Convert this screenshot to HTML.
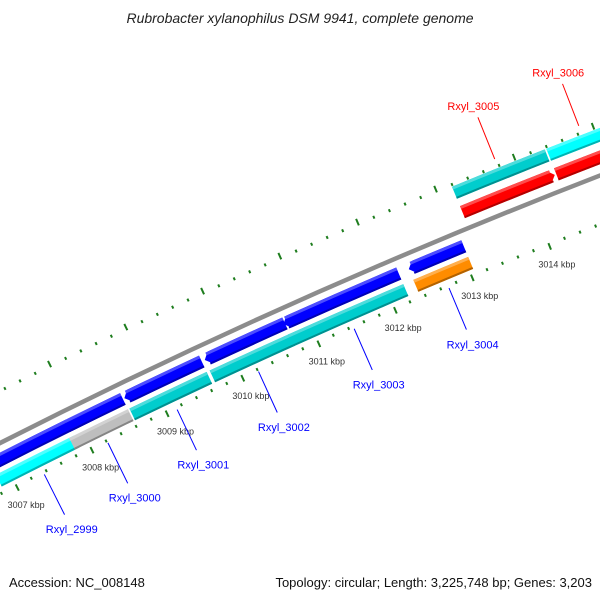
<!DOCTYPE html>
<html><head><meta charset="utf-8"><style>
html,body{margin:0;padding:0;background:#fff;}
svg{display:block;font-family:"Liberation Sans",sans-serif;}
</style></head><body>
<svg id="map" width="600" height="600" viewBox="0 0 600 600" xmlns="http://www.w3.org/2000/svg">
<rect width="600" height="600" fill="#fff"/>
<text x="300" y="23" text-anchor="middle" font-size="14" font-style="italic" fill="#222">Rubrobacter xylanophilus DSM 9941, complete genome</text>
<g id="plot"></g>
<text x="9" y="587" font-size="13" fill="#111">Accession: NC_008148</text>
<text x="592" y="587" text-anchor="end" font-size="13" fill="#111">Topology: circular; Length: 3,225,748 bp; Genes: 3,203</text>
</svg>
<script>
// data
const majorTicks = [3006,3007,3008,3009,3010,3011,3012,3013,3014,3015,3016];
const tickLabels = ["3006 kbp","3007 kbp","3008 kbp","3009 kbp","3010 kbp","3011 kbp","3012 kbp","3013 kbp","3014 kbp","3015 kbp","3016 kbp"];
const geneNames  = ["Rxyl_2999","Rxyl_3000","Rxyl_3001","Rxyl_3002","Rxyl_3003","Rxyl_3004","Rxyl_3005","Rxyl_3006"];
const geneStart  = [3006.84,3007.82,3008.62,3009.68,3010.71,3012.34,3013.19,3014.39];
const geneEnd    = [3007.88,3008.60,3009.64,3010.73,3012.21,3013.05,3014.37,3015.30];
const geneStrand = [-1,-1,-1,-1,-1,-1,1,1];
const cogColor   = ["#00FFFF","#BEBEBE","#00CDCD","#00CDCD","#00CDCD","#FF8C00","#00CDCD","#00FFFF"];

// axis (polar) functions
const CX=2945, CY=6241;
const A0=-26.97, DEG_PER_KBP=0.7414, K0=3007;
function ang(k){return (A0+DEG_PER_KBP*(k-K0))*Math.PI/180;}
function pt(r,k){const a=ang(k);return [CX+r*Math.sin(a), CY-r*Math.cos(a)];}
const R_BACK=6503, R_OUT=6541, R_RED=6520, R_BLUE=6488, R_COG=6470, R_TOUT=6548, R_TIN=6459;
const plot=document.getElementById('plot');
const NS='http://www.w3.org/2000/svg';
function mk(tag,attrs){const e=document.createElementNS(NS,tag);for(const k in attrs)e.setAttribute(k,attrs[k]);plot.appendChild(e);return e;}
function f(p){return p[0].toFixed(2)+' '+p[1].toFixed(2);}
function arcBand(k1,k2,r1,r2){ // r1 inner, r2 outer
  return 'M'+f(pt(r2,k1))+' A'+r2+' '+r2+' 0 0 1 '+f(pt(r2,k2))+' L'+f(pt(r1,k2))+' A'+r1+' '+r1+' 0 0 0 '+f(pt(r1,k1))+' Z';
}
function arrowPath(k1,k2,r1,r2,dir){
  const rm=(r1+r2)/2, h=6/(rm*DEG_PER_KBP*Math.PI/180);
  if(dir<0){
    return 'M'+f(pt(rm,k1))+' L'+f(pt(r2,k1+h))+' A'+r2+' '+r2+' 0 0 1 '+f(pt(r2,k2))+' L'+f(pt(r1,k2))+' A'+r1+' '+r1+' 0 0 0 '+f(pt(r1,k1+h))+' Z';
  }
  return 'M'+f(pt(r2,k1))+' A'+r2+' '+r2+' 0 0 1 '+f(pt(r2,k2-h))+' L'+f(pt(rm,k2))+' L'+f(pt(r1,k2-h))+' A'+r1+' '+r1+' 0 0 0 '+f(pt(r1,k1))+' Z';
}
function shade(hex,amt){const n=parseInt(hex.slice(1),16);let r=n>>16,g=(n>>8)&255,b=n&255;
  const m=c=>Math.max(0,Math.min(255,Math.round(amt>0?c+(255-c)*amt:c*(1+amt))));
  return 'rgb('+m(r)+','+m(g)+','+m(b)+')';}

// ticks
for(let i=0;i<majorTicks.length-1;i++){
  for(let j=0;j<5;j++){
    const k=majorTicks[i]+j*0.2, major=(j===0);
    let a=pt(R_TOUT,k), b=pt(major?R_TOUT+7:R_TOUT+3,k);
    let t=mk('line',{x1:a[0],y1:a[1],x2:b[0],y2:b[1],stroke:'#1e7d1e','stroke-width':2});
    
    
    a=pt(R_TIN,k); b=pt(major?R_TIN-7:R_TIN-3,k);
    t=mk('line',{x1:a[0],y1:a[1],x2:b[0],y2:b[1],stroke:'#1e7d1e','stroke-width':2});
    
    
  }
  const lp=pt(6436,majorTicks[i]);
  const tl=mk('text',{x:lp[0],y:lp[1]+3,'text-anchor':'middle','font-size':9,fill:'#333'});
  tl.textContent=tickLabels[i];
  
  
}

// backbone
const bb=mk('path',{d:'M'+f(pt(R_BACK,3005.5))+' A'+R_BACK+' '+R_BACK+' 0 0 1 '+f(pt(R_BACK,3016.5)),fill:'none',stroke:'#8c8c8c','stroke-width':4.5});



// genes
for(let i=0;i<geneNames.length;i++){
  const s=geneStart[i], e=geneEnd[i], dir=geneStrand[i];
  const rr = dir<0 ? R_BLUE : R_RED;
  const col = dir<0 ? '#0000FF' : '#FF0000';
  const g=mk('path',{d:arrowPath(s,e,rr-6.5,rr+6.5,dir),fill:col});
  
  
  const h1=6/(rr*DEG_PER_KBP*Math.PI/180);
  const hs = dir<0 ? s+h1*0.6 : s, he = dir<0 ? e : e-h1*0.6;
  let st=mk('path',{d:arcBand(hs,he,rr+3.5,rr+6.5),fill:shade(col,0.3)});
  
  
  st=mk('path',{d:arcBand(hs,he,rr-6.5,rr-4.5),fill:shade(col,-0.3)});
  
  

  const cr = dir<0 ? R_COG : R_OUT;
  const c=mk('path',{d:arcBand(s,e,cr-6.5,cr+6.5),fill:cogColor[i]});
  
  
  st=mk('path',{d:arcBand(s,e,cr+3.5,cr+6.5),fill:shade(cogColor[i],0.3)});
  
  
  st=mk('path',{d:arcBand(s,e,cr-6.5,cr-4.5),fill:shade(cogColor[i],-0.3)});
  
  

  // label
  const mid=(s+e)/2;
  const lc = dir<0 ? '#0000FF' : '#FF0000';
  let a,b,tp;
  if(dir<0){a=pt(6455,mid);b=pt(6410,mid);tp=pt(6394,mid);}
  else{a=pt(6557,mid);b=pt(6602,mid);tp=pt(6614,mid);}
  const ln=mk('line',{x1:a[0],y1:a[1],x2:b[0],y2:b[1],stroke:lc,'stroke-width':1});
  
  
  const tx=mk('text',{x:tp[0],y:tp[1]+4,'text-anchor':'middle','font-size':11,fill:lc});
  tx.textContent=geneNames[i];
  
  
}
</script>
</body></html>
